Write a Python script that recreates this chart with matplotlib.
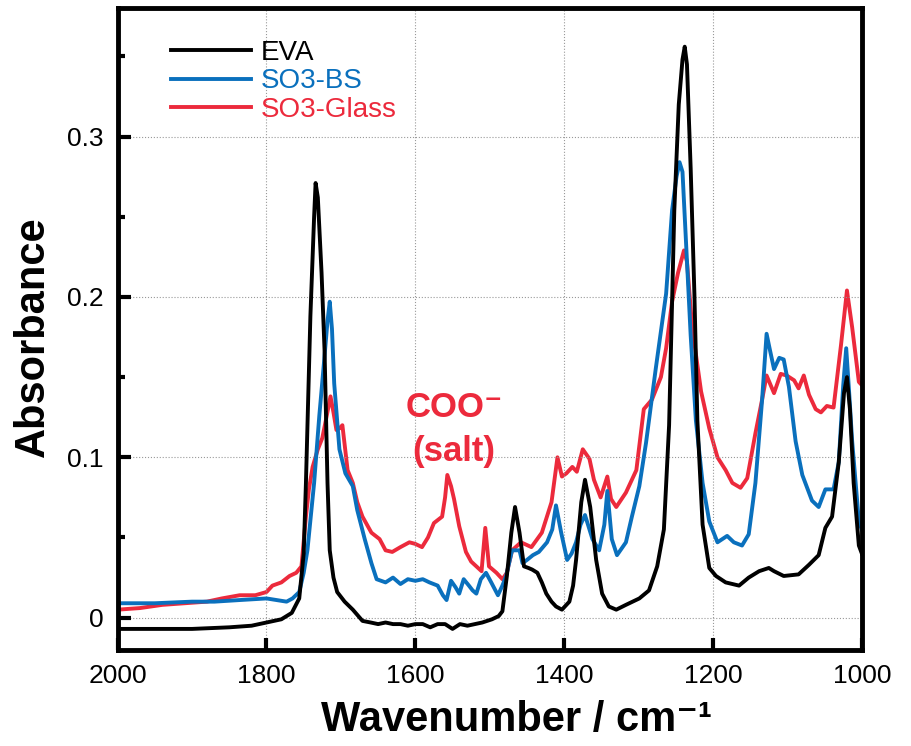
import matplotlib
matplotlib.use('Agg')
from matplotlib import pyplot as plt
from matplotlib.ticker import MultipleLocator

# wavenumber (cm-1) and absorbance
eva_x = [2000, 1950, 1900, 1850, 1820, 1800, 1780, 1766, 1756, 1750, 1747,
         1741, 1736, 1734, 1731, 1726, 1722, 1718, 1715, 1710, 1705, 1695,
         1684, 1671, 1660, 1650, 1640, 1630, 1620, 1610, 1600, 1590, 1580,
         1570, 1560, 1550, 1540, 1530, 1520, 1510, 1497, 1488, 1483, 1477,
         1471, 1466, 1460, 1454, 1448, 1443, 1436, 1430, 1424, 1417, 1411,
         1403, 1393, 1388, 1384, 1377, 1372, 1365, 1357, 1349, 1340, 1330,
         1317, 1299, 1286, 1275, 1266, 1259, 1252, 1246, 1241, 1238, 1235,
         1230, 1225, 1221, 1214, 1205, 1196, 1183, 1165, 1152, 1138, 1125,
         1118, 1105, 1085, 1071, 1058, 1049, 1040, 1031, 1024, 1020, 1016,
         1011, 1004, 1000]
eva_y = [-0.007, -0.007, -0.007, -0.006, -0.005, -0.003, -0.001, 0.003,
         0.012, 0.040, 0.084, 0.188, 0.250, 0.271, 0.262, 0.215, 0.167,
         0.084, 0.042, 0.025, 0.016, 0.010, 0.005, -0.002, -0.003, -0.004,
         -0.003, -0.004, -0.004, -0.005, -0.004, -0.004, -0.006, -0.004,
         -0.004, -0.007, -0.004, -0.005, -0.004, -0.003, -0.001, 0.001,
         0.004, 0.026, 0.053, 0.069, 0.053, 0.032, 0.031, 0.030, 0.028,
         0.022, 0.015, 0.010, 0.007, 0.005, 0.010, 0.020, 0.036, 0.072,
         0.086, 0.069, 0.036, 0.015, 0.007, 0.005, 0.008, 0.012, 0.017,
         0.032, 0.055, 0.120, 0.254, 0.320, 0.348, 0.356, 0.345, 0.280,
         0.202, 0.123, 0.058, 0.031, 0.026, 0.022, 0.020, 0.025, 0.029,
         0.031, 0.029, 0.026, 0.027, 0.033, 0.039, 0.056, 0.063, 0.097,
         0.140, 0.150, 0.130, 0.084, 0.045, 0.040]

bs_x = [2000, 1950, 1900, 1870, 1836, 1800, 1773, 1765, 1756, 1750, 1745,
        1736, 1729, 1722, 1718, 1715, 1712, 1709, 1702, 1694, 1684, 1678,
        1668, 1659, 1652, 1640, 1630, 1620, 1610, 1600, 1590, 1581, 1570,
        1563, 1558, 1552, 1546, 1541, 1535, 1528, 1523, 1518, 1512, 1505,
        1498, 1489, 1483, 1478, 1470, 1460, 1456, 1450, 1442, 1434, 1423,
        1416, 1411, 1404, 1396, 1390, 1384, 1378, 1372, 1362, 1353, 1346,
        1342, 1336, 1329, 1317, 1309, 1299, 1290, 1277, 1263, 1255, 1249,
        1245, 1241, 1237, 1230, 1223, 1214, 1205, 1194, 1181, 1172, 1161,
        1152, 1143, 1134, 1128, 1124, 1118, 1111, 1105, 1098, 1089, 1080,
        1067, 1058, 1049, 1038, 1031, 1025, 1021, 1017, 1013, 1004, 1000]
bs_y = [0.009, 0.009, 0.010, 0.010, 0.011, 0.012, 0.010, 0.012, 0.016,
        0.028, 0.042, 0.084, 0.126, 0.163, 0.185, 0.197, 0.180, 0.146,
        0.105, 0.090, 0.082, 0.067, 0.049, 0.034, 0.024, 0.022, 0.025,
        0.021, 0.024, 0.023, 0.024, 0.022, 0.020, 0.014, 0.011, 0.023,
        0.019, 0.015, 0.024, 0.020, 0.017, 0.015, 0.024, 0.028, 0.022,
        0.014, 0.020, 0.026, 0.042, 0.042, 0.034, 0.036, 0.039, 0.041,
        0.047, 0.055, 0.070, 0.053, 0.036, 0.040, 0.047, 0.058, 0.064,
        0.049, 0.042, 0.058, 0.079, 0.049, 0.039, 0.047, 0.063, 0.082,
        0.109, 0.155, 0.202, 0.254, 0.275, 0.284, 0.278, 0.241, 0.176,
        0.123, 0.084, 0.060, 0.047, 0.051, 0.047, 0.045, 0.052, 0.084,
        0.136, 0.177, 0.168, 0.155, 0.162, 0.161, 0.144, 0.110, 0.089,
        0.073, 0.069, 0.080, 0.080, 0.097, 0.145, 0.168, 0.140, 0.110,
        0.060, 0.055]

glass_x = [2000, 1970, 1940, 1910, 1880, 1860, 1836, 1815, 1800, 1792,
           1780, 1769, 1760, 1753, 1747, 1743, 1738, 1731, 1725, 1719,
           1714, 1710, 1706, 1702, 1698, 1691, 1684, 1678, 1671, 1665,
           1659, 1648, 1640, 1631, 1620, 1608, 1600, 1591, 1583, 1575,
           1564, 1560, 1557, 1552, 1548, 1541, 1532, 1525, 1518, 1511,
           1506, 1501, 1496, 1491, 1483, 1477, 1470, 1458, 1444, 1430,
           1417, 1409, 1403, 1397, 1389, 1383, 1375, 1366, 1360, 1351,
           1342, 1337, 1330, 1317, 1303, 1293, 1282, 1270, 1263, 1255,
           1247, 1239, 1235, 1228, 1216, 1205, 1194, 1183, 1174, 1163,
           1154, 1143, 1134, 1128, 1118, 1109, 1101, 1091, 1085, 1078,
           1071, 1062, 1055, 1047, 1038, 1028, 1020, 1013, 1004, 1000]
glass_y = [0.005, 0.006, 0.008, 0.009, 0.010, 0.012, 0.014, 0.014, 0.016,
           0.020, 0.022, 0.026, 0.028, 0.032, 0.063, 0.080, 0.094, 0.105,
           0.112, 0.126, 0.138, 0.128, 0.117, 0.118, 0.120, 0.092, 0.084,
           0.072, 0.063, 0.058, 0.053, 0.049, 0.042, 0.041, 0.044, 0.047,
           0.046, 0.044, 0.050, 0.059, 0.063, 0.075, 0.089, 0.082, 0.074,
           0.057, 0.041, 0.035, 0.032, 0.029, 0.056, 0.032, 0.030, 0.028,
           0.024, 0.028, 0.042, 0.047, 0.044, 0.053, 0.072, 0.100, 0.088,
           0.090, 0.094, 0.091, 0.105, 0.099, 0.086, 0.075, 0.088, 0.074,
           0.069, 0.078, 0.092, 0.130, 0.136, 0.150, 0.168, 0.197, 0.215,
           0.229, 0.222, 0.181, 0.141, 0.118, 0.100, 0.092, 0.084, 0.081,
           0.087, 0.115, 0.136, 0.151, 0.140, 0.152, 0.151, 0.148, 0.143,
           0.151, 0.139, 0.130, 0.128, 0.132, 0.131, 0.170, 0.204, 0.181,
           0.147, 0.145]

labels = ['EVA', 'SO3-BS', 'SO3-Glass']
colors = ['#000000', '#0a70bd', '#ec2a3c']

plt.rcParams['font.family'] = ['Liberation Sans', 'DejaVu Sans']

fig = plt.figure(figsize=(9.12, 7.46), dpi=100)
ax = fig.add_axes([0.129, 0.129, 0.816, 0.86])

ax.plot(eva_x, eva_y, color=colors[0], lw=2.8, label=labels[0], zorder=3)
ax.plot(bs_x, bs_y, color=colors[1], lw=2.8, label=labels[1], zorder=2)
ax.plot(glass_x, glass_y, color=colors[2], lw=2.8, label=labels[2], zorder=1)

ax.set_xlim(2000, 1000)
ax.set_ylim(-0.02, 0.38)
ax.xaxis.set_major_locator(MultipleLocator(200))
ax.yaxis.set_minor_locator(MultipleLocator(0.05))
ax.set_yticks([0, 0.1, 0.2, 0.3])
ax.set_yticklabels(['0', '0.1', '0.2', '0.3'])
ax.grid(True, which='major', color='#999999', ls=':', lw=0.8)

ax.tick_params(axis='both', which='major', direction='in', length=9, width=3,
               labelsize=19, pad=10)
ax.tick_params(axis='y', which='minor', direction='in', length=5, width=3)
ax.tick_params(axis='x', which='minor', bottom=False)
for s in ax.spines.values():
    s.set_linewidth(3.5)

ax.set_xlabel('Wavenumber / cm\u207b\u00b9', fontsize=30, fontweight='bold')
ax.set_ylabel('Absorbance', fontsize=30, fontweight='bold')
ax.xaxis.set_label_coords(0.536, -0.078)
ax.yaxis.set_label_coords(-0.087, 0.488)

leg = ax.legend(loc='upper left', bbox_to_anchor=(0.038, 0.99), frameon=False,
                fontsize=20, handlelength=2.9, handletextpad=0.35, labelspacing=0.1)
for t, c in zip(leg.get_texts(), colors):
    t.set_color(c)

ax.text(1548, 0.131, 'COO\u207b', color=colors[2], fontsize=25, fontweight='bold',
        ha='center', va='center')
ax.text(1548, 0.1035, '(salt)', color=colors[2], fontsize=25, fontweight='bold',
        ha='center', va='center')

plt.savefig('out.png', dpi=100)
